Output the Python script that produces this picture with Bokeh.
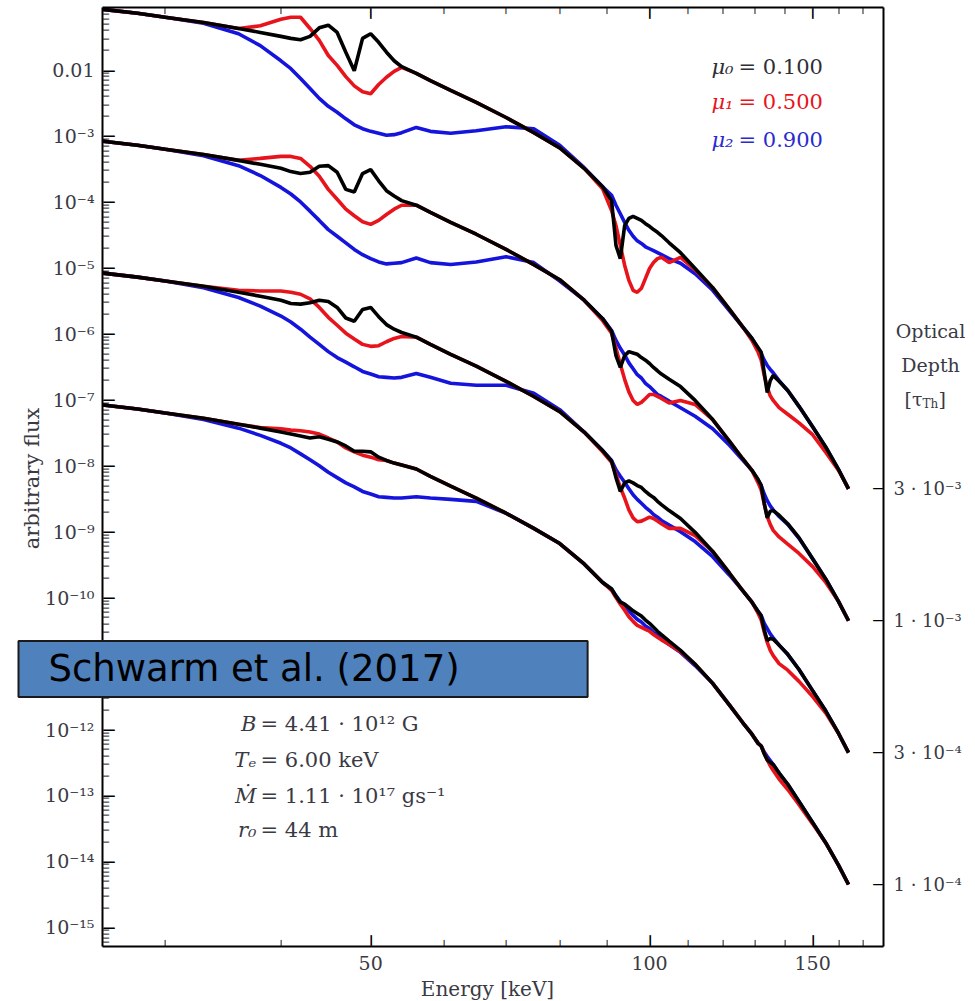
import math
from bokeh.plotting import figure
from bokeh.models import Range1d, LogAxis, FixedTicker, Label, CustomJSTickFormatter
from bokeh.embed import file_html
from bokeh.resources import INLINE

# ---------------- data: energy grid [keV] and log10 of arbitrary flux ----------------
energy_kev = [25.7, 28, 30, 33, 36, 38, 40, 41, 42, 43, 44, 45, 46, 47, 48, 49, 50, 51, 52, 53, 54,
              56, 58, 61, 65, 70, 75, 80, 85, 89, 91, 92, 93, 94, 95, 96, 97, 98, 99, 100, 101, 102, 103,
              105, 108, 112, 117, 122, 126, 129, 131, 132, 133, 134, 135, 136, 138, 141, 145, 150, 155, 160, 164]

# optical depth 3e-3
g1_mu0 = [-1.08, -1.14, -1.20, -1.28, -1.37, -1.43,
          -1.49, -1.52, -1.54, -1.49, -1.36, -1.32, -1.43, -1.73, -2.01, -1.52, -1.45, -1.58, -1.73, -1.86, -1.95, -2.05,
          -2.16, -2.31, -2.49, -2.72, -2.95, -3.18, -3.49, -3.77,
          -3.98, -4.66, -4.86, -4.36, -4.25, -4.22, -4.25, -4.28, -4.33, -4.37, -4.42, -4.46, -4.51, -4.62, -4.77,
          -5.01, -5.30, -5.63, -5.89, -6.07,
          -6.21, -6.28, -6.59, -6.89, -6.71, -6.63, -6.72, -6.86, -7.10,
          -7.41, -7.72, -8.06, -8.35]
g1_mu1 = [-1.08, -1.14, -1.20, -1.28, -1.37,
          -1.33, -1.23, -1.20, -1.20, -1.37, -1.55, -1.78, -1.93, -2.10, -2.24, -2.33, -2.36, -2.22, -2.11, -2.02, -1.96, -2.05,
          -2.16, -2.31, -2.49, -2.72, -2.95, -3.18, -3.49,
          -3.80, -4.13, -4.36, -4.66, -4.96, -5.19, -5.34, -5.37, -5.31, -5.16, -5.01, -4.92, -4.86, -4.84, -4.92, -4.84, -5.03,
          -5.30, -5.63, -5.89,
          -6.10, -6.28, -6.40, -6.63, -6.81, -6.94, -7.01, -7.12, -7.22, -7.35, -7.53, -7.80, -8.07, -8.35]
g1_mu2 = [-1.08, -1.14, -1.20,
          -1.29, -1.45, -1.63, -1.86, -1.98, -2.13, -2.28, -2.43, -2.55, -2.64, -2.74, -2.83, -2.89, -2.93, -2.96, -2.99,
          -2.98, -2.95, -2.87, -2.93, -2.96, -2.92, -2.86, -2.89, -3.14, -3.48,
          -3.77, -3.90, -4.05, -4.18, -4.31, -4.43, -4.52, -4.59, -4.63, -4.68, -4.71, -4.74, -4.77, -4.80, -4.86, -4.93,
          -5.09, -5.34, -5.65, -5.89, -6.07, -6.22, -6.30, -6.40, -6.48, -6.54, -6.59, -6.71, -6.86, -7.10,
          -7.41, -7.72, -8.06, -8.35]

# optical depth 1e-3
g2_mu0 = [-3.08, -3.14, -3.20, -3.28, -3.37, -3.43,
          -3.49, -3.54, -3.57, -3.55, -3.46, -3.45, -3.55, -3.81, -3.85, -3.57, -3.51, -3.68, -3.83, -3.91, -3.98, -4.05,
          -4.16, -4.31, -4.49, -4.72, -4.95, -5.18, -5.49, -5.77,
          -5.96, -6.33, -6.51, -6.33, -6.27, -6.29, -6.31, -6.36, -6.40, -6.45, -6.51, -6.56, -6.61, -6.69, -6.80,
          -7.01, -7.30, -7.63, -7.89, -8.07,
          -8.21, -8.30, -8.57, -8.79, -8.69, -8.68, -8.75, -8.88, -9.09,
          -9.41, -9.72, -10.06, -10.35]
g2_mu1 = [-3.08, -3.14, -3.20, -3.28, -3.37,
          -3.34, -3.31, -3.31, -3.34, -3.46, -3.61, -3.81, -3.96, -4.11, -4.21, -4.30, -4.34, -4.28, -4.19, -4.11, -4.05, -4.05,
          -4.16, -4.31, -4.49, -4.72, -4.95, -5.18, -5.49,
          -5.80, -5.99, -6.22, -6.46, -6.69, -6.88, -7.01, -7.07, -7.04, -6.98, -6.92, -6.92, -6.95, -6.98, -7.05, -7.01, -7.07,
          -7.30, -7.63, -7.89,
          -8.07, -8.26, -8.37, -8.58, -8.77, -8.89, -8.98, -9.08, -9.19, -9.33, -9.53, -9.77, -10.06, -10.35]
g2_mu2 = [-3.08, -3.14, -3.20,
          -3.30, -3.45, -3.60, -3.78, -3.88, -4.00, -4.14, -4.28, -4.42, -4.52, -4.62, -4.72, -4.80, -4.86, -4.91, -4.94,
          -4.93, -4.92, -4.85, -4.92, -4.95, -4.91, -4.83, -4.92, -5.20, -5.49,
          -5.77, -5.95, -6.10, -6.22, -6.32, -6.44, -6.53, -6.62, -6.67, -6.75, -6.80, -6.86, -6.92, -6.95, -7.02, -7.12,
          -7.25, -7.44, -7.69, -7.91, -8.07, -8.22, -8.30, -8.43, -8.53, -8.61, -8.67, -8.77, -8.89, -9.10,
          -9.41, -9.72, -10.06, -10.35]

# optical depth 3e-4
g3_mu0 = [-5.08, -5.14, -5.20, -5.28, -5.37, -5.43,
          -5.49, -5.54, -5.55, -5.53, -5.49, -5.51, -5.60, -5.76, -5.81, -5.63, -5.60, -5.74, -5.86, -5.93, -5.98, -6.05,
          -6.16, -6.31, -6.49, -6.72, -6.95, -7.18, -7.49, -7.77,
          -7.93, -8.18, -8.39, -8.26, -8.23, -8.26, -8.30, -8.33, -8.39, -8.44, -8.48, -8.54, -8.59, -8.68, -8.80,
          -9.01, -9.30, -9.63, -9.89, -10.07,
          -10.21, -10.28, -10.49, -10.65, -10.62, -10.63, -10.72, -10.86, -11.09,
          -11.41, -11.72, -12.06, -12.35]
g3_mu1 = [-5.08, -5.14, -5.20, -5.28,
          -5.34, -5.35, -5.35, -5.37, -5.40, -5.47, -5.60, -5.75, -5.87, -5.99, -6.08, -6.16, -6.19, -6.18, -6.12, -6.07, -6.04, -6.05,
          -6.16, -6.31, -6.49, -6.72, -6.95, -7.18, -7.49,
          -7.79, -7.95, -8.13, -8.33, -8.49, -8.67, -8.79, -8.85, -8.84, -8.81, -8.78, -8.80, -8.84, -8.88, -8.95, -8.95, -9.06,
          -9.30, -9.63, -9.89, -10.07,
          -10.24, -10.34, -10.52, -10.68, -10.80, -10.88, -11.00, -11.10, -11.27, -11.50, -11.75, -12.06, -12.35]
g3_mu2 = [-5.08, -5.14, -5.20,
          -5.30, -5.45, -5.58, -5.73, -5.82, -5.93, -6.05, -6.16, -6.27, -6.36, -6.43, -6.50, -6.57, -6.61, -6.65, -6.66,
          -6.67, -6.66, -6.60, -6.66, -6.75, -6.78, -6.78, -6.90, -7.15, -7.49, -7.77,
          -7.92, -8.06, -8.16, -8.25, -8.35, -8.44, -8.51, -8.57, -8.63, -8.68, -8.74, -8.78, -8.83, -8.90, -9.00, -9.15,
          -9.38, -9.66, -9.89, -10.07,
          -10.21, -10.27, -10.39, -10.47, -10.55, -10.61, -10.72, -10.86, -11.09,
          -11.41, -11.72, -12.06, -12.35]

# optical depth 1e-4
g4_mu0 = [-7.08, -7.14, -7.20, -7.28, -7.37, -7.43,
          -7.49, -7.52, -7.55, -7.58, -7.56, -7.60, -7.64, -7.70, -7.78, -7.78, -7.79, -7.87, -7.92, -7.96, -7.99, -8.05,
          -8.16, -8.31, -8.49, -8.72, -8.95, -9.18, -9.49, -9.77,
          -9.87, -9.98, -10.07, -10.10, -10.15, -10.20, -10.24, -10.28, -10.34, -10.39, -10.45, -10.51, -10.56, -10.66, -10.80,
          -11.01, -11.30, -11.63, -11.89, -12.07,
          -12.21, -12.25, -12.37, -12.46, -12.50, -12.53, -12.66, -12.83, -13.09,
          -13.41, -13.72, -14.06, -14.35]
g4_mu1 = [-7.08, -7.14, -7.20, -7.28, -7.37,
          -7.42, -7.44, -7.46, -7.47, -7.49, -7.52, -7.58, -7.64, -7.73, -7.79, -7.84, -7.87, -7.91, -7.92, -7.96, -7.99, -8.05,
          -8.16, -8.31, -8.49, -8.72, -8.95, -9.18, -9.49, -9.77,
          -9.89, -10.00, -10.10, -10.19, -10.29, -10.36, -10.42, -10.45, -10.48, -10.51, -10.56, -10.60, -10.64, -10.71, -10.82,
          -11.01, -11.30, -11.63, -11.89, -12.07, -12.21, -12.25,
          -12.36, -12.46, -12.55, -12.62, -12.75, -12.91, -13.14, -13.43,
          -13.72, -14.06, -14.35]
g4_mu2 = [-7.08, -7.14, -7.20,
          -7.30, -7.43, -7.54, -7.66, -7.73, -7.82, -7.91, -8.00, -8.10, -8.18, -8.26, -8.32, -8.39, -8.43, -8.47, -8.48,
          -8.49, -8.49, -8.47, -8.49, -8.51, -8.54, -8.72,
          -8.95, -9.18, -9.49, -9.77, -9.87,
          -9.97, -10.06, -10.11, -10.20, -10.27, -10.33, -10.37, -10.43, -10.47, -10.53, -10.57, -10.62, -10.71, -10.83, -11.03,
          -11.30, -11.63, -11.89, -12.07, -12.21, -12.25, -12.34, -12.41, -12.47, -12.53, -12.66, -12.83, -13.09, -13.41,
          -13.72, -14.06, -14.35]

mu_values = ["0.100", "0.500", "0.900"]
optical_depth_labels = ["3 · 10⁻³", "1 · 10⁻³", "3 · 10⁻⁴", "1 · 10⁻⁴"]
x_major_ticks = [50, 100, 150]
x_minor_ticks = [30, 40, 60, 70, 80, 90, 110, 120, 130, 140, 160, 170]
y_major_exponents = list(range(-15, -1))

# ---------------- styles / geometry ----------------
BLACK, RED, BLUE = "#000000", "#e8141c", "#1414dc"
SERIF = "DejaVu Serif"
TXT = "#3a3a44"

E_LEFT, E_RIGHT = 25.67, 178.9
LOGF_TOP, LOGF_BOTTOM = -1.052, -15.29
BL, BR, BT, BB = 102, 883, 7, 946          # axis box in page pixels
W, H = 975, 1001
LX0, LX1 = math.log10(E_LEFT), math.log10(E_RIGHT)


def dx(px):
    return 10 ** (LX0 + (px - BL) / (BR - BL) * (LX1 - LX0))


def dy(py):
    return 10 ** (LOGF_TOP - (py - BT) / (BB - BT) * (LOGF_TOP - LOGF_BOTTOM))


p = figure(width=W, height=H, x_axis_type="log", y_axis_type="log",
           x_range=Range1d(dx(0), dx(W)), y_range=Range1d(dy(H), dy(0)),
           output_backend="svg", toolbar_location=None, min_border=0)
p.xgrid.visible = False
p.ygrid.visible = False
p.outline_line_color = None
p.background_fill_color = "white"
p.border_fill_color = "white"


def style_axis(ax):
    ax.major_tick_line_color = None
    ax.minor_tick_line_color = None
    ax.major_tick_in = 0
    ax.minor_tick_in = 0
    ax.major_tick_out = 0
    ax.minor_tick_out = 0
    ax.axis_line_width = 2
    ax.major_label_text_font = SERIF
    ax.major_label_text_font_size = "19px"
    ax.major_label_text_color = TXT


# bottom axis
xa = p.xaxis[0]
xa.ticker = FixedTicker(ticks=x_major_ticks, minor_ticks=x_minor_ticks)
xa.formatter = CustomJSTickFormatter(code="return tick.toFixed(0);")
xa.fixed_location = dy(BB)
xa.bounds = (dx(BL), dx(BR))
style_axis(xa)
xa.major_label_standoff = 9

# top axis (line only)
ta = LogAxis(ticker=FixedTicker(ticks=x_major_ticks, minor_ticks=x_minor_ticks),
             formatter=CustomJSTickFormatter(code="return '';"))
ta.fixed_location = dy(BT)
ta.bounds = (dx(BL), dx(BR))
style_axis(ta)
p.add_layout(ta, "above")

# left axis
y_major = [10.0 ** e for e in y_major_exponents]
y_minor = [m * 10.0 ** e for e in range(-16, -1) for m in range(2, 10)]
ya = p.yaxis[0]
ya.ticker = FixedTicker(ticks=y_major, minor_ticks=y_minor)
ya.formatter = CustomJSTickFormatter(code="""
const e = Math.round(Math.log10(tick));
if (e === -2) { return "0.01"; }
const sup = {"-": "\u207b", "0": "\u2070", "1": "\u00b9", "2": "\u00b2", "3": "\u00b3", "4": "\u2074",
             "5": "\u2075", "6": "\u2076", "7": "\u2077", "8": "\u2078", "9": "\u2079"};
return "10" + String(e).split("").map(c => sup[c]).join("");
""")
ya.fixed_location = dx(BL)
ya.bounds = (dy(BB), dy(BT))
style_axis(ya)
ya.major_label_standoff = 8

groups = [(g1_mu0, g1_mu1, g1_mu2), (g2_mu0, g2_mu1, g2_mu2),
          (g3_mu0, g3_mu1, g3_mu2), (g4_mu0, g4_mu1, g4_mu2)]
end_flux = [10.0 ** g[0][-1] for g in groups]

# right axis: optical depth at the end flux of each group
ra = LogAxis(ticker=FixedTicker(ticks=end_flux, minor_ticks=[]),
             formatter=CustomJSTickFormatter(args=dict(vals=end_flux, labs=optical_depth_labels), code="""
let best = 0, bd = Infinity;
for (let i = 0; i < vals.length; i++) {
  const d = Math.abs(Math.log10(vals[i]) - Math.log10(tick));
  if (d < bd) { bd = d; best = i; }
}
return labs[best];
"""))
ra.fixed_location = dx(BR)
ra.bounds = (dy(BB), dy(BT))
style_axis(ra)
ra.major_label_text_font_size = "18px"
ra.major_label_standoff = 10
p.add_layout(ra, "right")

# curves
for mu0, mu1, mu2 in groups:
    for arr, col in [(mu2, BLUE), (mu1, RED), (mu0, BLACK)]:
        p.line(energy_kev, [10.0 ** v for v in arr], line_color=col, line_width=3.6)


# inward tick marks drawn as dash characters at the tick values
def tick_mark(x, y, size, align, angle=0.0):
    p.add_layout(Label(x=x, y=y, text="—", text_align=align, text_baseline="middle", angle=angle,
                       text_font="DejaVu Sans", text_font_size=f"{size}px", text_font_style="bold",
                       text_color="black"))


x_lo, x_hi = dx(BL), dx(BR)
y_lo, y_hi = dy(BB), dy(BT)
for ticks, size in [(x_major_ticks, 12), (x_minor_ticks, 7)]:
    for t in ticks:
        if x_lo <= t <= x_hi:
            tick_mark(t, dy(BB), size, "left", math.pi / 2)
            tick_mark(t, dy(BT), size, "left", -math.pi / 2)
for ticks, size in [(y_major, 13), (y_minor, 7)]:
    for t in ticks:
        if y_lo <= t <= y_hi:
            tick_mark(dx(BL), t, size, "left")
for t in end_flux:
    tick_mark(dx(BR), t, 11, "right")

# axis titles
p.add_layout(Label(x=dx(487), y=dy(988), text="Energy [keV]", text_align="center", text_baseline="middle",
                   text_font=SERIF, text_font_size="20px", text_color=TXT))
p.add_layout(Label(x=dx(31), y=dy(478), text="arbitrary flux", text_align="center", text_baseline="middle",
                   angle=math.pi / 2, text_font=SERIF, text_font_size="21px", text_color=TXT))
for txt, py in [("Optical", 330), ("Depth", 364)]:
    p.add_layout(Label(x=dx(930), y=dy(py), text=txt, text_align="center", text_baseline="middle",
                       text_font=SERIF, text_font_size="19px", text_color=TXT))
p.add_layout(Label(x=dx(922), y=dy(398), text="[τ", text_align="right", text_baseline="middle",
                   text_font=SERIF, text_font_size="19px", text_color=TXT))
p.add_layout(Label(x=dx(922), y=dy(403), text="Th", text_align="left", text_baseline="middle",
                   text_font=SERIF, text_font_size="12px", text_color=TXT))
p.add_layout(Label(x=dx(938), y=dy(398), text="]", text_align="left", text_baseline="middle",
                   text_font=SERIF, text_font_size="19px", text_color=TXT))

# mu legend
for i, (col, py) in enumerate([("#2e2e36", 66), (RED, 101), ("#2a2ad0", 139)]):
    p.add_layout(Label(x=dx(733), y=dy(py), text="μ" + "₀₁₂"[i], text_align="right", text_baseline="middle",
                       text_font=SERIF, text_font_size="21px", text_font_style="italic", text_color=col))
    p.add_layout(Label(x=dx(738), y=dy(py), text="= " + mu_values[i], text_align="left", text_baseline="middle",
                       text_font=SERIF, text_font_size="21px", text_color=col))

# parameter block
params = [("B", "= 4.41 · 10¹² G", 723), ("Tₑ", "= 6.00 keV", 759),
          ("Ṁ", "= 1.11 · 10¹⁷ gs⁻¹", 795), ("r₀", "= 44 m", 829)]
for var, rest, py in params:
    p.add_layout(Label(x=dx(256), y=dy(py), text=var, text_align="right", text_baseline="middle",
                       text_font=SERIF, text_font_size="21px", text_font_style="italic", text_color=TXT))
    p.add_layout(Label(x=dx(260), y=dy(py), text=rest, text_align="left", text_baseline="middle",
                       text_font=SERIF, text_font_size="21px", text_color=TXT))

# citation box
p.add_layout(Label(x=dx(18), y=dy(668.5), text="Schwarm et al. (2017)", text_align="left", text_baseline="middle",
                   text_font="DejaVu Sans", text_font_size="37px", text_color="black",
                   background_fill_color="#4f81bd", border_line_color="#1a1a1a", border_line_width=2,
                   padding=dict(left=30, right=128, top=6, bottom=7)))

open("out.html", "w").write(file_html(p, INLINE))
